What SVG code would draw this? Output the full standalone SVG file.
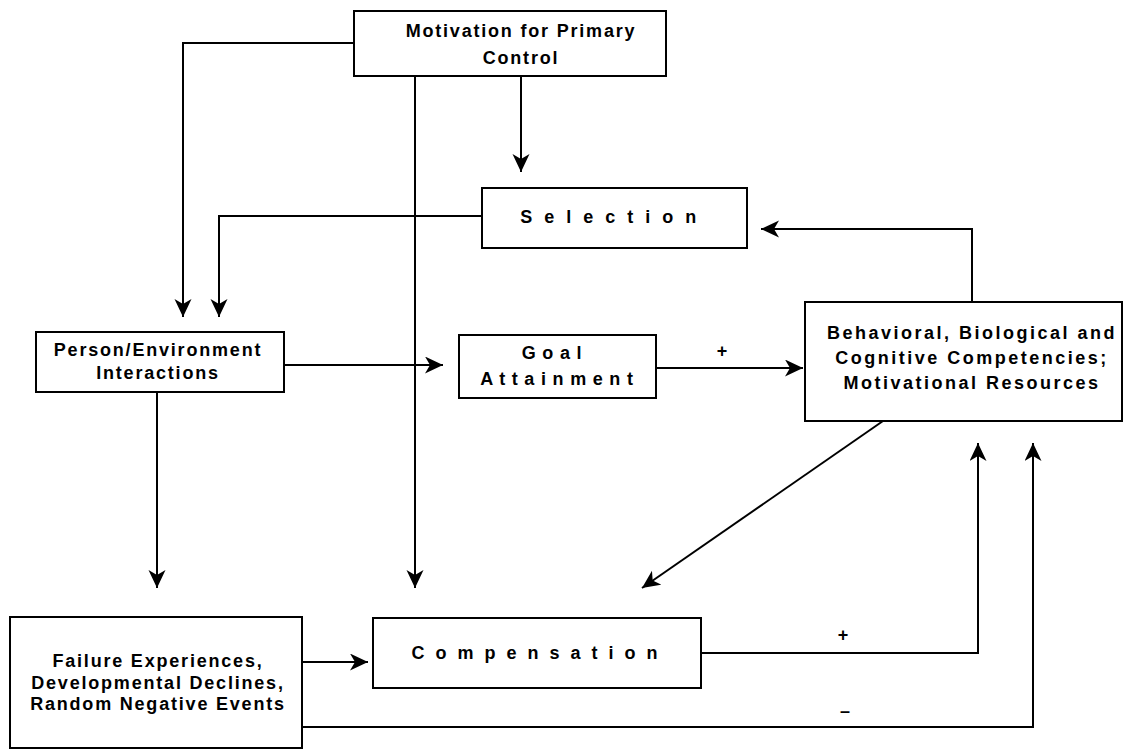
<svg xmlns="http://www.w3.org/2000/svg" width="1127" height="750" viewBox="0 0 1127 750">
<style>
.box{fill:#fff;stroke:#000;stroke-width:2}
.t{font-family:"Liberation Sans",Arial,sans-serif;font-weight:bold;font-size:18px;fill:#000;text-anchor:middle;letter-spacing:1.8px}
.w{letter-spacing:2.5px}
.c{fill:none;stroke:#000;stroke-width:2;marker-end:url(#ah)}
.s{font-family:"Liberation Sans",Arial,sans-serif;font-weight:bold;font-size:18px;fill:#000;text-anchor:middle}
</style>
<defs>
<marker id="ah" markerUnits="userSpaceOnUse" markerWidth="20" markerHeight="18" refX="18" refY="8.5" orient="auto">
<path d="M0,0 L18,8.5 L0,17 L5,8.5 z" fill="#000"/>
</marker>
</defs>
<rect width="1127" height="750" fill="#fff"/>
<g id="connectors">
<path class="c" d="M354,43 H183 V317"/>
<path class="c" d="M415,76 V588"/>
<path class="c" d="M521,76 V172"/>
<path class="c" d="M482,216 H219 V317"/>
<path class="c" d="M972,302 V229 H761"/>
<path class="c" d="M284,365 H443"/>
<path class="c" d="M656,368 H803"/>
<path class="c" d="M157,392 V588"/>
<path class="c" d="M883,421 L642,588"/>
<path class="c" d="M302,662 H368"/>
<path class="c" d="M701,653 H978 V443"/>
<path class="c" d="M302,727 H1033 V443"/>
<text class="s" x="722" y="357">+</text>
<text class="s" x="843" y="641">+</text>
<text class="s" x="845" y="717">–</text>
</g>
<g id="motivation">
<rect class="box" x="354" y="11" width="312" height="65"/>
<text class="t" x="521" y="37">Motivation for Primary</text>
<text class="t" x="521" y="64">Control</text>
</g>
<g id="selection">
<rect class="box" x="482" y="188" width="265" height="60"/>
<text class="t" x="610" y="223" style="letter-spacing:3.5px">S e l e c t i o n</text>
</g>
<g id="person">
<rect class="box" x="36" y="332" width="248" height="60"/>
<text class="t" x="158" y="356">Person/Environment</text>
<text class="t" x="158" y="379">Interactions</text>
</g>
<g id="goal">
<rect class="box" x="459" y="335" width="197" height="63"/>
<text class="t" x="552" y="359" style="letter-spacing:0.8px">G o a l</text>
<text class="t" x="557" y="385" style="letter-spacing:0.8px">A t t a i n m e n t</text>
</g>
<g id="behavioral">
<rect class="box" x="805" y="302" width="317" height="119"/>
<text class="t w" x="972" y="339">Behavioral, Biological and</text>
<text class="t w" x="972" y="364">Cognitive Competencies;</text>
<text class="t w" x="972" y="389">Motivational Resources</text>
</g>
<g id="compensation">
<rect class="box" x="373" y="618" width="328" height="70"/>
<text class="t" x="536" y="659" style="letter-spacing:3px">C o m p e n s a t i o n</text>
</g>
<g id="failure">
<rect class="box" x="10" y="617" width="292" height="131"/>
<text class="t" x="158" y="667">Failure Experiences,</text>
<text class="t" x="158" y="689">Developmental Declines,</text>
<text class="t" x="158" y="710">Random Negative Events</text>
</g>
</svg>
